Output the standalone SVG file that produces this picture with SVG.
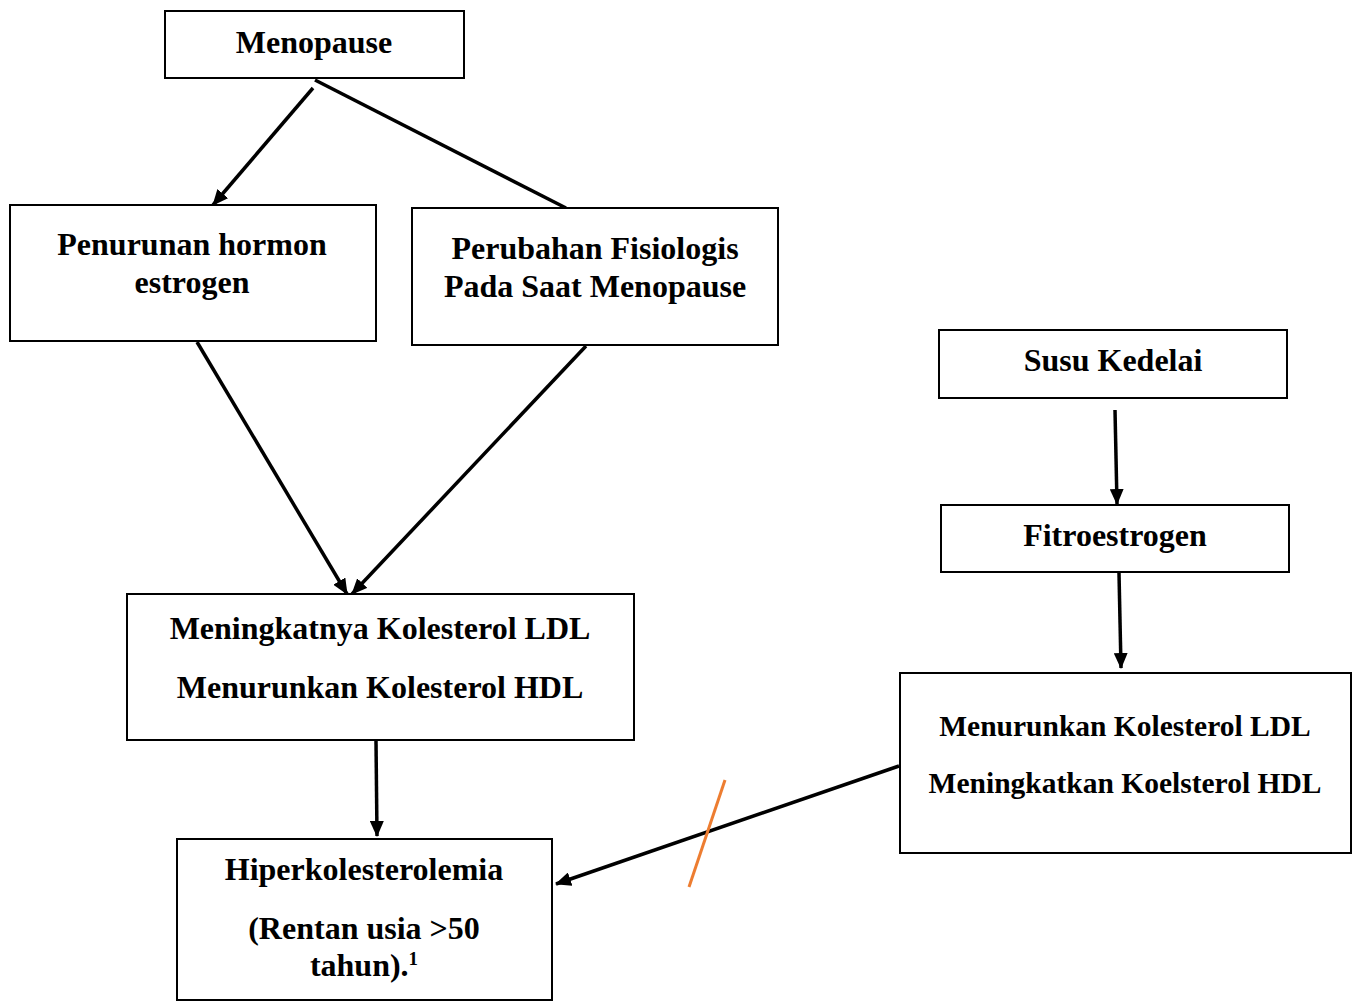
<svg xmlns="http://www.w3.org/2000/svg" width="1357" height="1001" viewBox="0 0 1357 1001">
<defs>
<marker id="ah" markerUnits="userSpaceOnUse" markerWidth="16" markerHeight="14" refX="15" refY="7" orient="auto">
<path d="M0,0 L16,7 L0,14 Z" fill="#000"/>
</marker>
<style>
.box{fill:#fff;stroke:#000;stroke-width:2}
.t{font-family:"Liberation Serif","Times New Roman",serif;font-weight:bold;font-size:32px;fill:#000;text-anchor:middle}
.s{font-size:29.5px}
.c{stroke:#000;stroke-width:3.5;fill:none}
.a{marker-end:url(#ah)}
</style>
</defs>
<rect width="1357" height="1001" fill="#fff"/>
<g id="connectors">
<line class="c a" x1="313" y1="88" x2="213" y2="205"/>
<line class="c" x1="315" y1="80" x2="566" y2="208"/>
<line class="c a" x1="197" y1="342" x2="347" y2="594"/>
<line class="c a" x1="586" y1="346" x2="352" y2="594"/>
<line class="c a" x1="376" y1="741" x2="377" y2="836"/>
<line class="c a" x1="1115" y1="410" x2="1117" y2="504"/>
<line class="c a" x1="1119" y1="573" x2="1121" y2="668"/>
<line class="c a" x1="899" y1="766" x2="556" y2="884"/>
<line x1="725" y1="780" x2="689" y2="887" stroke="#ED7D31" stroke-width="3"/>
</g>
<g id="menopause">
<rect class="box" x="165" y="11" width="299" height="67"/>
<text class="t" x="314" y="53">Menopause</text>
</g>
<g id="penurunan">
<rect class="box" x="10" y="205" width="366" height="136"/>
<text class="t" x="192" y="255">Penurunan hormon</text>
<text class="t" x="192" y="293">estrogen</text>
</g>
<g id="perubahan">
<rect class="box" x="412" y="208" width="366" height="137"/>
<text class="t" x="595" y="259">Perubahan Fisiologis</text>
<text class="t" x="595" y="297">Pada Saat Menopause</text>
</g>
<g id="susu">
<rect class="box" x="939" y="330" width="348" height="68"/>
<text class="t" x="1113" y="371">Susu Kedelai</text>
</g>
<g id="fitro">
<rect class="box" x="941" y="505" width="348" height="67"/>
<text class="t" x="1115" y="546">Fitroestrogen</text>
</g>
<g id="meningkatnya">
<rect class="box" x="127" y="594" width="507" height="146"/>
<text class="t" x="380" y="639">Meningkatnya Kolesterol LDL</text>
<text class="t" x="380" y="698">Menurunkan Kolesterol HDL</text>
</g>
<g id="menurunkan">
<rect class="box" x="900" y="673" width="451" height="180"/>
<text class="t s" x="1125" y="736">Menurunkan Kolesterol LDL</text>
<text class="t s" x="1125" y="793">Meningkatkan Koelsterol HDL</text>
</g>
<g id="hiper">
<rect class="box" x="177" y="839" width="375" height="161"/>
<text class="t" x="364" y="880">Hiperkolesterolemia</text>
<text class="t" x="364" y="939">(Rentan usia &gt;50</text>
<text class="t" x="364" y="976">tahun).<tspan font-size="19" dy="-11">1</tspan></text>
</g>
</svg>
